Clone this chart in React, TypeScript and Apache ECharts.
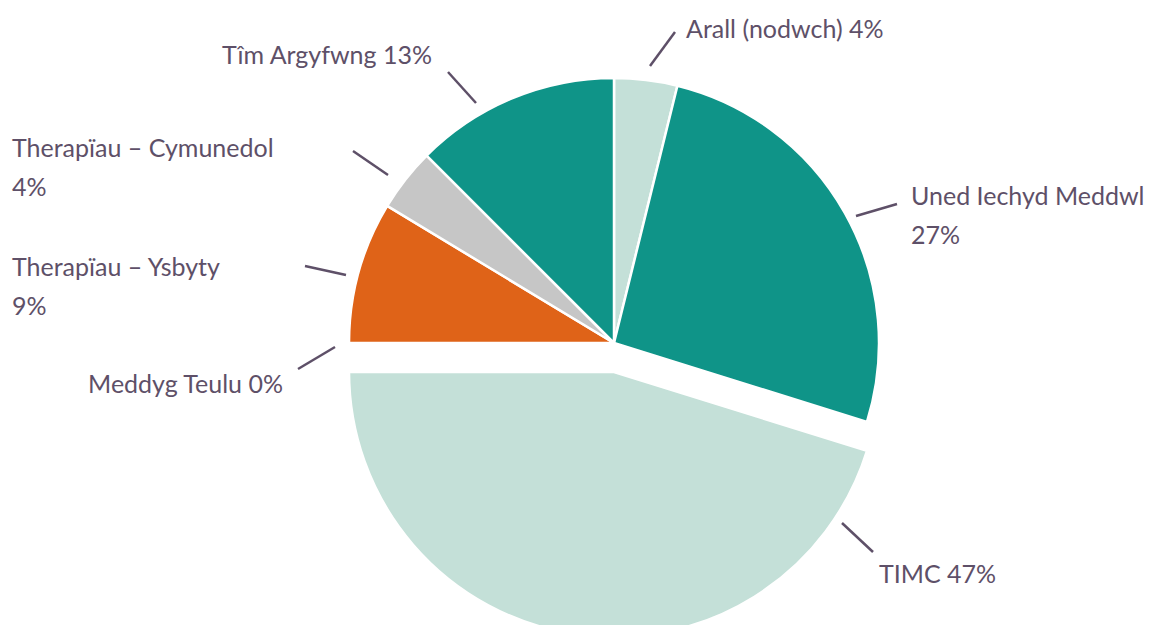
import { useEffect, useRef } from "react";
import * as echarts from "echarts";

// Data, clockwise from 12 o'clock
const categories = [
  "Arall (nodwch)",
  "Uned Iechyd Meddwl",
  "TIMC",
  "Meddyg Teulu",
  "Therapïau – Ysbyty",
  "Therapïau – Cymunedol",
  "Tîm Argyfwng",
];
const values = [4, 27, 47, 0, 9, 4, 13];
const sliceColors = ["#C4E0D8", "#0F9488", "#C4E0D8", "#C4E0D8", "#DF6318", "#C6C6C6", "#0F9488"];
const labelJoin = [" ", "\n", " ", " ", "\n", "\n", " "];
const explodedCategory = "TIMC";

const TEXT = "#5E5068";
const FONT = "Lato, 'Liberation Sans', sans-serif";

const CENTER = [614, 343];
const RADIUS = 265;
const EXPLODE_Y = 29; // exploded slice is pulled straight down

// Label layout (text anchor + leader line), by data index
const LABEL_LAYOUT: { x: number; y: number; align: string; line: number[][] }[] = [
  { x: 686, y: 8, align: "left", line: [[650, 66], [675, 32]] },
  { x: 911, y: 175, align: "left", line: [[856, 216], [897, 204]] },
  { x: 879, y: 553, align: "left", line: [[842, 523], [873, 552]] },
  { x: 283, y: 363, align: "right", line: [[335, 347], [298, 369]] },
  { x: 12, y: 246, align: "left", line: [[346, 275], [305, 266]] },
  { x: 12, y: 127, align: "left", line: [[388, 175], [353, 151]] },
  { x: 432, y: 34, align: "right", line: [[476, 103], [448, 72]] },
];

export default function App() {
  const ref = useRef<HTMLDivElement>(null);
  useEffect(() => {
    if (!ref.current) return;
    const chart = echarts.init(ref.current, undefined, { renderer: "svg" });

    const explodedCenter = [CENTER[0], CENTER[1] + EXPLODE_Y];

    const common = {
      type: "pie",
      radius: RADIUS,
      startAngle: 90,
      clockwise: true,
      avoidLabelOverlap: false,
      emphasis: { disabled: true },
    };

    chart.setOption({
      animation: false,
      backgroundColor: "#ffffff",
      series: [
        {
          ...common,
          center: CENTER,
          itemStyle: { borderColor: "#ffffff", borderWidth: 2.5 },
          label: {
            show: true,
            position: "outside",
            color: TEXT,
            fontFamily: FONT,
            fontSize: 25,
            lineHeight: 39,
            overflow: "none",
            formatter: (p: any) => p.name + labelJoin[p.dataIndex] + p.value + "%",
          },
          labelLine: {
            show: true,
            length: 10,
            length2: 0,
            lineStyle: { color: TEXT, width: 2.5 },
          },
          labelLayout: (p: any) => {
            const L = LABEL_LAYOUT[p.dataIndex];
            if (!L) return {};
            const [a, b] = L.line;
            return {
              x: L.x,
              y: L.y,
              align: L.align,
              verticalAlign: "top",
              labelLinePoints: [a, [(a[0] + b[0]) / 2, (a[1] + b[1]) / 2], b],
            };
          },
          data: categories.map((name, i) => ({
            name,
            value: values[i],
            itemStyle:
              name === explodedCategory
                ? { color: "transparent", borderWidth: 0 }
                : { color: sliceColors[i] },
          })),
        },
        {
          ...common,
          center: explodedCenter,
          silent: true,
          label: { show: false },
          labelLine: { show: false },
          data: categories.map((name, i) => ({
            name,
            value: values[i],
            itemStyle:
              name === explodedCategory
                ? { color: sliceColors[i], borderColor: "#ffffff", borderWidth: 2.5 }
                : { color: "transparent", borderWidth: 0 },
          })),
        },
      ],
    });
    return () => chart.dispose();
  }, []);
  return (
    <div
      ref={ref}
      style={{ position: "fixed", left: 0, top: 0, width: 1151, height: 625 }}
    />
  );
}
